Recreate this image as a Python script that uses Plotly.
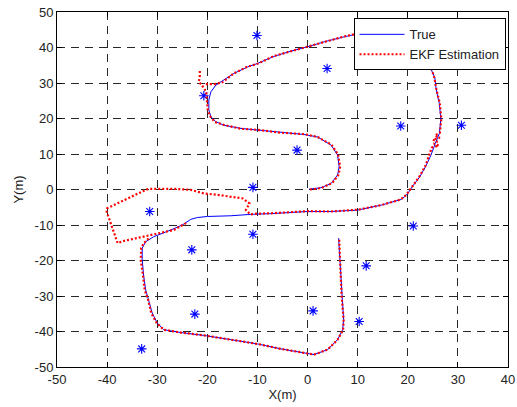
import plotly.graph_objects as go

# ---------------- data ----------------
true_x = [0.3, 2.7, 4.7, 6.0, 6.3, 6.0, 4.7, 2.0, -0.7, -5.3, -10.0, -13.3, -16.7, -18.3, -19.3,
          -19.7, -19.7, -19.3, -18.3, -16.7, -14.7, -12.0, -10.0, -6.7, -3.3, 0.0, 3.3, 7.3, 12.0,
          17.0, 21.0, 23.3, 24.6, 25.4, 25.6, 26.0, 26.3, 26.6, 26.3, 25.5, 24.6, 23.6, 22.4, 20.9,
          19.8, 18.7, 14.7, 10.0, 4.7, 0.0, -5.3, -7.3, -11.3, -15.3, -20.0, -22.0, -23.3, -25.0,
          -27.3, -30.7, -32.3, -33.0, -33.0, -32.7, -32.3, -31.7, -31.0, -30.0, -28.7, -25.3, -20.7,
          -15.3, -10.0, -5.3, 0.0, 1.3, 4.0, 6.0, 7.0, 7.2, 6.9, 6.5, 6.2]
true_y = [0.1, 0.5, 1.7, 4.1, 6.4, 9.7, 12.5, 14.8, 15.5, 16.1, 16.7, 17.2, 18.1, 19.1, 20.5,
          22.4, 25.2, 27.5, 29.4, 30.8, 32.7, 34.5, 35.5, 37.5, 39.0, 40.2, 41.6, 43.0, 44.5,
          44.5, 41.5, 37.3, 34.0, 31.5, 28.9, 26.0, 24.2, 19.8, 15.8, 13.0, 9.6, 6.6, 3.6, 0.8,
          -1.5, -2.8, -4.4, -5.8, -6.2, -6.2, -6.7, -6.8, -7.0, -7.4, -7.6, -7.9, -8.4, -10.0,
          -11.4, -13.3, -14.7, -16.5, -19.8, -24.5, -28.3, -31.1, -34.8, -37.6, -39.5, -40.3, -41.1,
          -42.3, -43.5, -44.9, -46.3, -46.5, -45.1, -42.3, -39.5, -36.7, -30.1, -20.8, -13.7]

ekf_x = [0.5, 2.7, 4.9, 6.2, 6.5, 6.1, 4.8, 2.0, -0.7, -5.3, -10.0, -13.3, -16.7, -18.5, -19.5,
         -19.9, -20.1, -20.2, -21.2, -21.7, -21.5, None,
         -20.3, -18.5, -17.0, -15.5, -14.7, -12.0, -10.0, -6.7, -3.3, 0.0, 3.3, 7.3, 12.0,
         17.0, 21.0, 23.3, 24.7, 25.3, 25.6, 26.1, 26.4, 26.7, 26.4, 25.4, 26.4, 25.0, 25.9, 25.2,
         26.2, 24.8, 24.3, 23.5, 22.3, 20.8,
         19.7, 18.6, 14.7, 10.0, 4.7, 0.0, -5.3, -7.3, -10.0, -11.4, -12.3, -11.6, -13.0, -15.3,
         -18.0, -20.7, -23.3, -26.7, -31.7, -32.3, -36.7, -40.0, -40.1, -39.0, -37.9, -36.7,
         -32.0, -30.0, -26.7, -25.3, -24.0, None,
         -31.7, -32.6, -33.2, -33.3, -32.8, -32.5, -31.8, -31.2, -30.1, -28.7, -25.3, -20.7,
         -15.3, -10.0, -5.3, 0.0, 1.3, 4.0, 6.0, 7.1, 7.2, 6.8, 6.5, 6.3]
ekf_y = [0.0, 0.4, 1.8, 4.2, 6.4, 9.8, 12.6, 14.8, 15.6, 16.0, 16.8, 17.1, 18.2, 19.0, 20.7,
         22.4, 25.2, 27.5, 29.6, 30.3, 32.0, 33.6, None,
         29.7, 29.7, 30.2, 31.8, 32.7, 34.6, 35.4, 37.6, 38.9, 40.3, 41.5, 43.1, 44.5,
         44.5, 41.5, 37.3, 34.0, 31.5, 28.9, 26.0, 24.2, 19.8, 16.0, 15.2, 14.6, 14.0, 13.5, 12.9,
         12.4, 11.8, 9.6, 6.6, 3.6, 0.8,
         -1.5, -2.8, -4.4, -5.7, -6.2, -6.1, -6.6, -6.7, -6.8, -7.0, -5.8, -3.9, -2.5, -2.0,
         -1.5, -1.1, -0.1, 0.2, 0.2, -0.1, -3.0, -5.3, -6.2, -10.5, -15.1, -14.5,
         -13.1, -12.5, -11.4, -10.3, -9.3, None,
         -13.8, -15.0, -16.5, -19.8, -24.5, -28.3, -31.1, -34.8, -37.6, -39.5, -40.3, -41.1,
         -42.3, -43.5, -44.9, -46.3, -46.5, -45.1, -42.3, -39.5, -36.7, -30.1, -20.8, -13.7]
# the x list's top-left branch needs the same number of points as the y list
ekf_x = ekf_x[:21] + [-21.5] + ekf_x[21:] if len(ekf_x) < len(ekf_y) else ekf_x

landmark_x = [-10.1, 3.9, -20.7, -2.1, 18.6, 30.7, -10.9, -31.5, -10.9, -23.1, 21.1, 11.7,
              -22.5, 1.1, 10.3, -33.1]
landmark_y = [43.4, 34.1, 26.4, 11.1, 17.9, 18.1, 0.6, -6.2, -12.6, -17.0, -10.3, -21.5,
              -35.1, -34.2, -37.2, -44.9]

x_ticks = [-50, -40, -30, -20, -10, 0, 10, 20, 30, 40]
x_tick_labels = ["-50", "-40", "-30", "-20", "-10", "0", "10", "20", "30", "40"]
y_ticks = [-50, -40, -30, -20, -10, 0, 10, 20, 30, 40, 50]
y_tick_labels = ["-50", "-40", "-30", "-20", "-10", "0", "10", "20", "30", "40", "50"]

FONT = "Liberation Sans, Arial, Helvetica, sans-serif"

fig = go.Figure()
fig.add_trace(go.Scatter(x=landmark_x, y=landmark_y, mode="markers", showlegend=False,
                         marker=dict(symbol="asterisk-open", size=8, color="blue",
                                     line=dict(color="blue", width=1.1))))
fig.add_trace(go.Scatter(x=true_x, y=true_y, mode="lines", name="True",
                         line=dict(color="blue", width=1)))
fig.add_trace(go.Scatter(x=ekf_x, y=ekf_y, mode="lines", name="EKF Estimation",
                         connectgaps=False,
                         line=dict(color="red", width=2.2, dash="2px,2px")))

axis_common = dict(showline=True, linecolor="black", linewidth=1, mirror="ticks",
                   ticks="inside", ticklen=5, tickcolor="black", automargin=False,
                   showgrid=True, gridcolor="rgb(40,40,40)", gridwidth=1, griddash="8px,6px",
                   zeroline=False, tickfont=dict(family=FONT, size=13, color="#222"))

fig.update_xaxes(range=[-50, 40], tickvals=x_ticks, ticktext=x_tick_labels,
                 title=dict(text="X(m)", font=dict(family=FONT, size=13, color="#222"), standoff=4),
                 **axis_common)
fig.update_yaxes(range=[-50, 50], tickvals=y_ticks, ticktext=y_tick_labels,
                 title=dict(text="Y(m)", font=dict(family=FONT, size=13, color="#222"), standoff=8),
                 **axis_common)

fig.update_layout(
    width=517, height=407,
    margin=dict(l=57, r=9, t=12, b=40),
    paper_bgcolor="white", plot_bgcolor="white",
    font=dict(family=FONT, size=13, color="#222"),
    legend=dict(x=0.9945, y=0.982, xanchor="right", yanchor="top",
                bgcolor="white", bordercolor="black", borderwidth=1,
                font=dict(family=FONT, size=13, color="#222"),
                itemwidth=45, tracegroupgap=0),
)

fig.write_html("out.html", config={"displayModeBar": False},
               post_script="document.body.style.margin='0px';")
